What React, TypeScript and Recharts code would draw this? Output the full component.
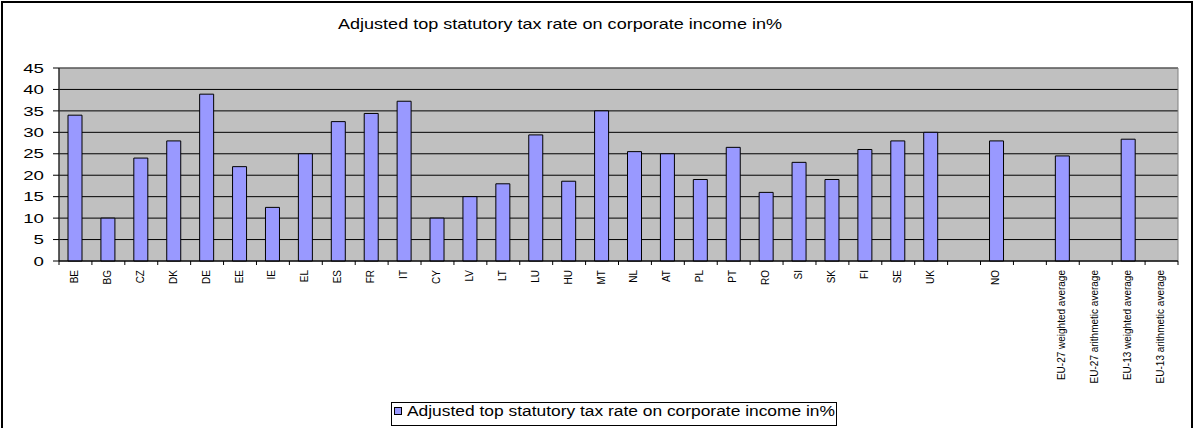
import { Bar, BarChart, CartesianGrid, ReferenceArea, XAxis, YAxis } from "recharts";

// Adjusted top statutory corporate tax rates, in %
const categories = [
  "BE", "BG", "CZ", "DK", "DE", "EE", "IE", "EL", "ES", "FR", "IT", "CY",
  "LV", "LT", "LU", "HU", "MT", "NL", "AT", "PL", "PT", "RO", "SI", "SK",
  "FI", "SE", "UK", "", "NO", "",
  "EU-27 weighted average", "EU-27 arithmetic average",
  "EU-13 weighted average", "EU-13 arithmetic average",
];
const taxRates: (number | null)[] = [
  34.0, 10, 24, 28, 38.9, 22, 12.5, 25, 32.5, 34.4, 37.25, 10,
  15, 18, 29.4, 18.6, 35, 25.5, 25, 19, 26.5, 16, 23, 19,
  26, 28, 30, null, 28, null,
  24.5, null, 28.4, null,
];
const yTicks = [0, 5, 10, 15, 20, 25, 30, 35, 40, 45];
const seriesName = "Adjusted top statutory tax rate on corporate income in%";

const data = categories.map((name, i) => ({ name, rate: taxRates[i] }));

const FONT = '"Liberation Sans", Arial, Helvetica, sans-serif';
const W = 1194;
const H = 428;
const PLOT_LEFT = 59;
const PLOT_RIGHT = 1178;
const SLOT = (PLOT_RIGHT - PLOT_LEFT) / categories.length;

function CategoryTick({ x, y, payload, index }: any) {
  const last = index === categories.length - 1;
  return (
    <g>
      <line x1={x - SLOT / 2} x2={x - SLOT / 2} y1={y} y2={y + 4} stroke="#000" />
      {last && <line x1={x + SLOT / 2} x2={x + SLOT / 2} y1={y} y2={y + 4} stroke="#000" />}
      <text
        x={x - 1}
        y={y + 9}
        transform={`rotate(-90, ${x - 1}, ${y + 9})`}
        textAnchor="end"
        dominantBaseline="central"
        fontSize={10}
        fontFamily={FONT}
        fill="#000"
      >
        {payload.value}
      </text>
    </g>
  );
}

function ValueTick({ x, y, payload }: any) {
  const s = String(payload.value);
  return (
    <text
      x={x + 1}
      y={y}
      dy="0.36em"
      textAnchor="end"
      fontSize={13}
      fontFamily={FONT}
      fill="#000"
      textLength={s.length * 10.4}
      lengthAdjust="spacingAndGlyphs"
    >
      {s}
    </text>
  );
}

export default function App() {
  return (
    <div style={{ position: "absolute", left: 0, top: 0, width: W, height: H, background: "#fff", overflow: "hidden" }}>
      <BarChart
        width={W}
        height={H}
        data={data}
        margin={{ top: 68, right: W - PLOT_RIGHT, left: 0, bottom: 0 }}
      >
        <CartesianGrid vertical={false} stroke="#000" fill="#C0C0C0" fillOpacity={1} />
        <ReferenceArea y1={0} y2={45} fill="none" stroke="#808080" strokeWidth={1} ifOverflow="visible" />
        <XAxis
          dataKey="name"
          height={H - 261}
          interval={0}
          tickLine={false}
          tickSize={0}
          tickMargin={0}
          axisLine={{ stroke: "#000" }}
          tick={<CategoryTick />}
        />
        <YAxis
          width={PLOT_LEFT}
          domain={[0, 45]}
          ticks={yTicks}
          interval={0}
          tickSize={6}
          tickMargin={10}
          axisLine={{ stroke: "#000" }}
          tickLine={{ stroke: "#000" }}
          tick={<ValueTick />}
        />
        <Bar
          dataKey="rate"
          name={seriesName}
          fill="#9999FF"
          stroke="#000"
          strokeWidth={1}
          barSize={14}
          isAnimationActive={false}
        />
      </BarChart>
      <svg
        width={W}
        height={H}
        style={{ position: "absolute", left: 0, top: 0, pointerEvents: "none" }}
      >
        <text
          x={560}
          y={28.5}
          textAnchor="middle"
          fontSize={15}
          fontFamily={FONT}
          fill="#000"
          textLength={444}
          lengthAdjust="spacingAndGlyphs"
        >
          {seriesName}
        </text>
        <rect x={391.5} y={402.5} width={445} height={23} fill="#fff" stroke="#000" />
        <rect x={394.5} y={407.5} width={7} height={7} fill="#9999FF" stroke="#000" />
        <text
          x={407}
          y={416}
          fontSize={14}
          fontFamily={FONT}
          fill="#000"
          textLength={428}
          lengthAdjust="spacingAndGlyphs"
        >
          {seriesName}
        </text>
        <rect x={2} y={2} width={1190} height={440} fill="none" stroke="#000" strokeWidth={2} />
      </svg>
    </div>
  );
}
